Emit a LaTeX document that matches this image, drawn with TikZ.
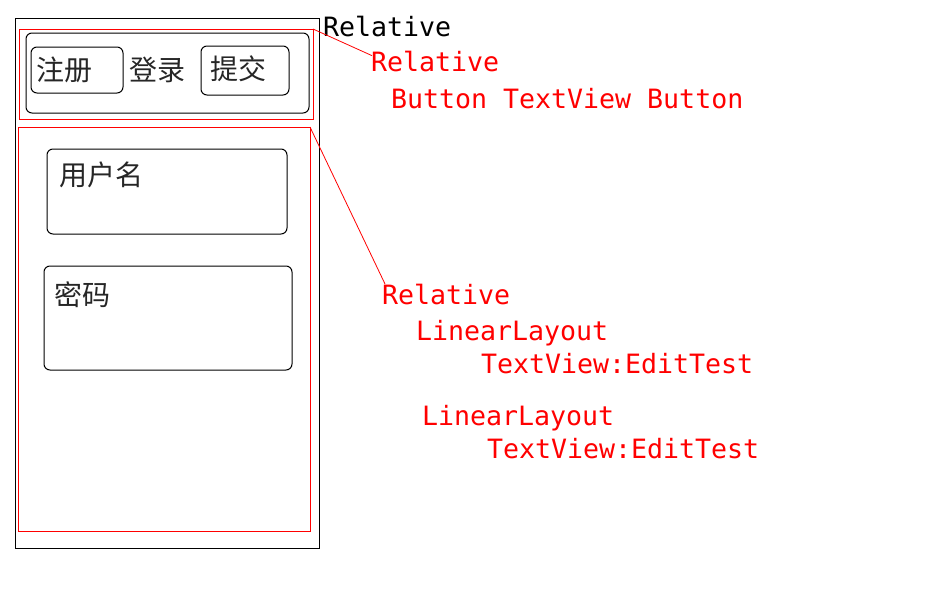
\documentclass[tikz,border=0pt]{standalone}
\usepackage{fontspec}
\setmonofont{DejaVu Sans Mono}
\newfontfamily\cjk{Noto Sans CJK SC}
\begin{document}
\begin{tikzpicture}[x=1pt,y=-1pt,
  frame/.style={draw=black,line width=1pt,inner sep=0pt,outer sep=0pt,anchor=north west},
  redframe/.style={draw=red,line width=1pt,inner sep=0pt,outer sep=0pt,anchor=north west},
  rbox/.style={draw=black,line width=1pt,rounded corners=6pt,inner sep=0pt,outer sep=0pt,anchor=north west},
  lbl/.style={font=\ttfamily\fontsize{26.6}{26.6}\selectfont,anchor=base west,inner sep=0pt,outer sep=0pt},
  cn/.style={font=\cjk\fontsize{28}{28}\selectfont,anchor=west,inner sep=0pt,text=black!85},
  conn/.style={draw=red,line width=0.8pt}]
\useasboundingbox (0,0) rectangle (951,605);
% phone frame
\node[frame,minimum width=304pt,minimum height=530pt] (outer) at (15,18) {};
% top red region
\node[redframe,minimum width=294pt,minimum height=90pt] (topr) at (19,29) {};
\node[rbox,minimum width=283pt,minimum height=80pt] (bar) at (26,33) {};
\node[rbox,minimum width=92pt,minimum height=46pt] (reg) at (31,47) {};
\node[rbox,minimum width=88pt,minimum height=49pt] (sub) at (201,46) {};
\node[cn] (regt) at (36,70) {注册};
\node[cn] (login) at (129,70) {登录};
\node[cn] (subt) at (210,69) {提交};
% bottom red region
\node[redframe,minimum width=292pt,minimum height=404pt] (botr) at (18,127) {};
\node[rbox,minimum width=240pt,minimum height=85pt] (user) at (47,149) {};
\node[rbox,minimum width=248pt,minimum height=104pt] (pass) at (44,266) {};
\node[cn] (usert) at (59,175) {用户名};
\node[cn] (passt) at (54,295) {密码};
% labels
\node[lbl,text=black] (rel1) at (323,36.7) {Relative};
\node[lbl,text=red] (rel2) at (371,71) {Relative};
\node[lbl,text=red] (btns) at (391,108.3) {Button TextView Button};
\node[lbl,text=red] (rel3) at (382,304.3) {Relative};
\node[lbl,text=red] (ll1) at (416,340) {LinearLayout};
\node[lbl,text=red] (tv1) at (481,373.3) {TextView:EditTest};
\node[lbl,text=red] (ll2) at (422,425) {LinearLayout};
\node[lbl,text=red] (tv2) at (487,458.3) {TextView:EditTest};
% connectors
\draw[conn] (topr.north east) -- ([xshift=1pt,yshift=-5pt]rel2.north west);
\draw[conn] (botr.north east) -- ([xshift=3pt]rel3.north west);
\end{tikzpicture}
\end{document}
